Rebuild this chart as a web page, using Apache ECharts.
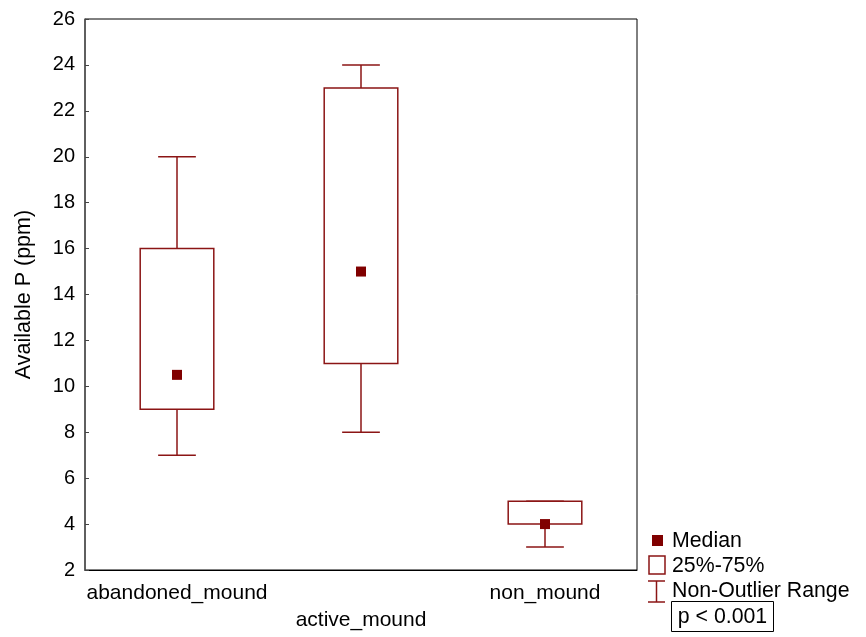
<!DOCTYPE html>
<html>
<head>
<meta charset="utf-8">
<script src="https://cdn.jsdelivr.net/npm/echarts@6/dist/echarts.min.js"></script>
<style>html,body{margin:0;padding:0;background:#fff}#c{width:866px;height:637px}</style>
</head>
<body>
<div id="c"></div>
<script>
const categories = ['abandoned_mound', 'active_mound', 'non_mound'];
const minVals    = [7, 8, 3];
const q1Vals     = [9, 11, 4];
const medianVals = [10.5, 15, 4];
const q3Vals     = [16, 23, 5];
const maxVals    = [20, 24, 5];
const yTicks = { min: 2, max: 26, interval: 2 };

const BOX = '#8b1515';
const MED = '#800000';
const FONT = 'Liberation Sans, Arial, sans-serif';
const FS = 20;
const FSL = 21.3;

const chart = echarts.init(document.getElementById('c'), null, { renderer: 'canvas' });

const boxData = categories.map((c, i) => [i, minVals[i], q1Vals[i], medianVals[i], q3Vals[i], maxVals[i]]);

function renderItem(params, api) {
  const idx = api.value(0);
  const pMin = api.coord([idx, api.value(1)]);
  const pQ1 = api.coord([idx, api.value(2)]);
  const pMed = api.coord([idx, api.value(3)]);
  const pQ3 = api.coord([idx, api.value(4)]);
  const pMax = api.coord([idx, api.value(5)]);
  const bandW = api.size([1, 0])[0];
  const bw = bandW * 0.40;
  const cw = bandW * 0.205;
  const x = pQ1[0];
  const st = { stroke: BOX, lineWidth: 1.5, fill: null };
  const children = [
    { type: 'line', shape: { x1: x, y1: pQ3[1], x2: x, y2: pMax[1] }, style: st },
    { type: 'line', shape: { x1: x - cw / 2, y1: pMax[1], x2: x + cw / 2, y2: pMax[1] }, style: st },
    { type: 'line', shape: { x1: x, y1: pQ1[1], x2: x, y2: pMin[1] }, style: st },
    { type: 'line', shape: { x1: x - cw / 2, y1: pMin[1], x2: x + cw / 2, y2: pMin[1] }, style: st },
    { type: 'rect', shape: { x: x - bw / 2, y: pQ3[1], width: bw, height: pQ1[1] - pQ3[1] }, style: { stroke: BOX, lineWidth: 1.5, fill: 'rgba(255,255,255,0)' } },
    { type: 'rect', shape: { x: pMed[0] - 5, y: pMed[1] - 5, width: 10, height: 10 }, style: { fill: MED, stroke: null } }
  ];
  return { type: 'group', children: children };
}

const option = {
  backgroundColor: '#fff',
  animation: false,
  grid: { left: 85, right: 229, top: 19, bottom: 67, show: true, borderColor: '#000', borderWidth: 1, backgroundColor: 'transparent' },
  xAxis: {
    type: 'category',
    data: categories,
    boundaryGap: true,
    axisLine: { lineStyle: { color: '#000', width: 1 } },
    axisTick: { inside: true, alignWithLabel: true, length: 4, lineStyle: { color: '#444' } },
    axisLabel: {
      interval: 0,
      color: '#000',
      fontFamily: FONT,
      fontSize: 21,
      margin: 10,
      lineHeight: 27,
      formatter: function (v, i) { return i % 2 === 1 ? '\n' + v : v; }
    },
    splitLine: { show: false }
  },
  yAxis: {
    type: 'value',
    min: yTicks.min, max: yTicks.max, interval: yTicks.interval,
    name: 'Available P (ppm)',
    nameLocation: 'middle',
    nameRotate: 90,
    nameGap: 50,
    nameTextStyle: { color: '#000', fontFamily: FONT, fontSize: 21.5 },
    axisLine: { show: true, lineStyle: { color: '#555', width: 1.5 } },
    axisTick: { show: true, inside: true, length: 4, lineStyle: { color: '#444' } },
    axisLabel: { color: '#000', fontFamily: FONT, fontSize: FS, margin: 10 },
    splitLine: { show: false }
  },
  series: [{
    type: 'custom',
    renderItem: renderItem,
    data: boxData,
    encode: { x: 0, y: [1, 2, 3, 4, 5] },
    z: 3
  }],
  graphic: [
    { type: 'rect', shape: { x: 652, y: 535, width: 11, height: 11 }, style: { fill: MED } },
    { type: 'text', x: 672, y: 541, style: { text: 'Median', fill: '#000', font: FSL + 'px ' + FONT, verticalAlign: 'middle' } },
    { type: 'rect', shape: { x: 649, y: 556, width: 16, height: 18 }, style: { fill: '#fff', stroke: BOX, lineWidth: 1.5 } },
    { type: 'text', x: 672, y: 566, style: { text: '25%-75%', fill: '#000', font: FSL + 'px ' + FONT, verticalAlign: 'middle' } },
    { type: 'line', shape: { x1: 648, y1: 581, x2: 665, y2: 581 }, style: { stroke: BOX, lineWidth: 1.5 } },
    { type: 'line', shape: { x1: 656.5, y1: 581, x2: 656.5, y2: 602 }, style: { stroke: BOX, lineWidth: 1.5 } },
    { type: 'line', shape: { x1: 648, y1: 602, x2: 665, y2: 602 }, style: { stroke: BOX, lineWidth: 1.5 } },
    { type: 'text', x: 672, y: 591, style: { text: 'Non-Outlier Range', fill: '#000', font: FSL + 'px ' + FONT, verticalAlign: 'middle' } },
    { type: 'rect', shape: { x: 671.5, y: 601.5, width: 102, height: 30 }, style: { fill: '#fff', stroke: '#000', lineWidth: 1 } },
    { type: 'text', x: 722.5, y: 617, style: { text: 'p < 0.001', fill: '#000', font: FSL + 'px ' + FONT, align: 'center', verticalAlign: 'middle' } }
  ]
};
chart.setOption(option);
</script>
</body>
</html>
